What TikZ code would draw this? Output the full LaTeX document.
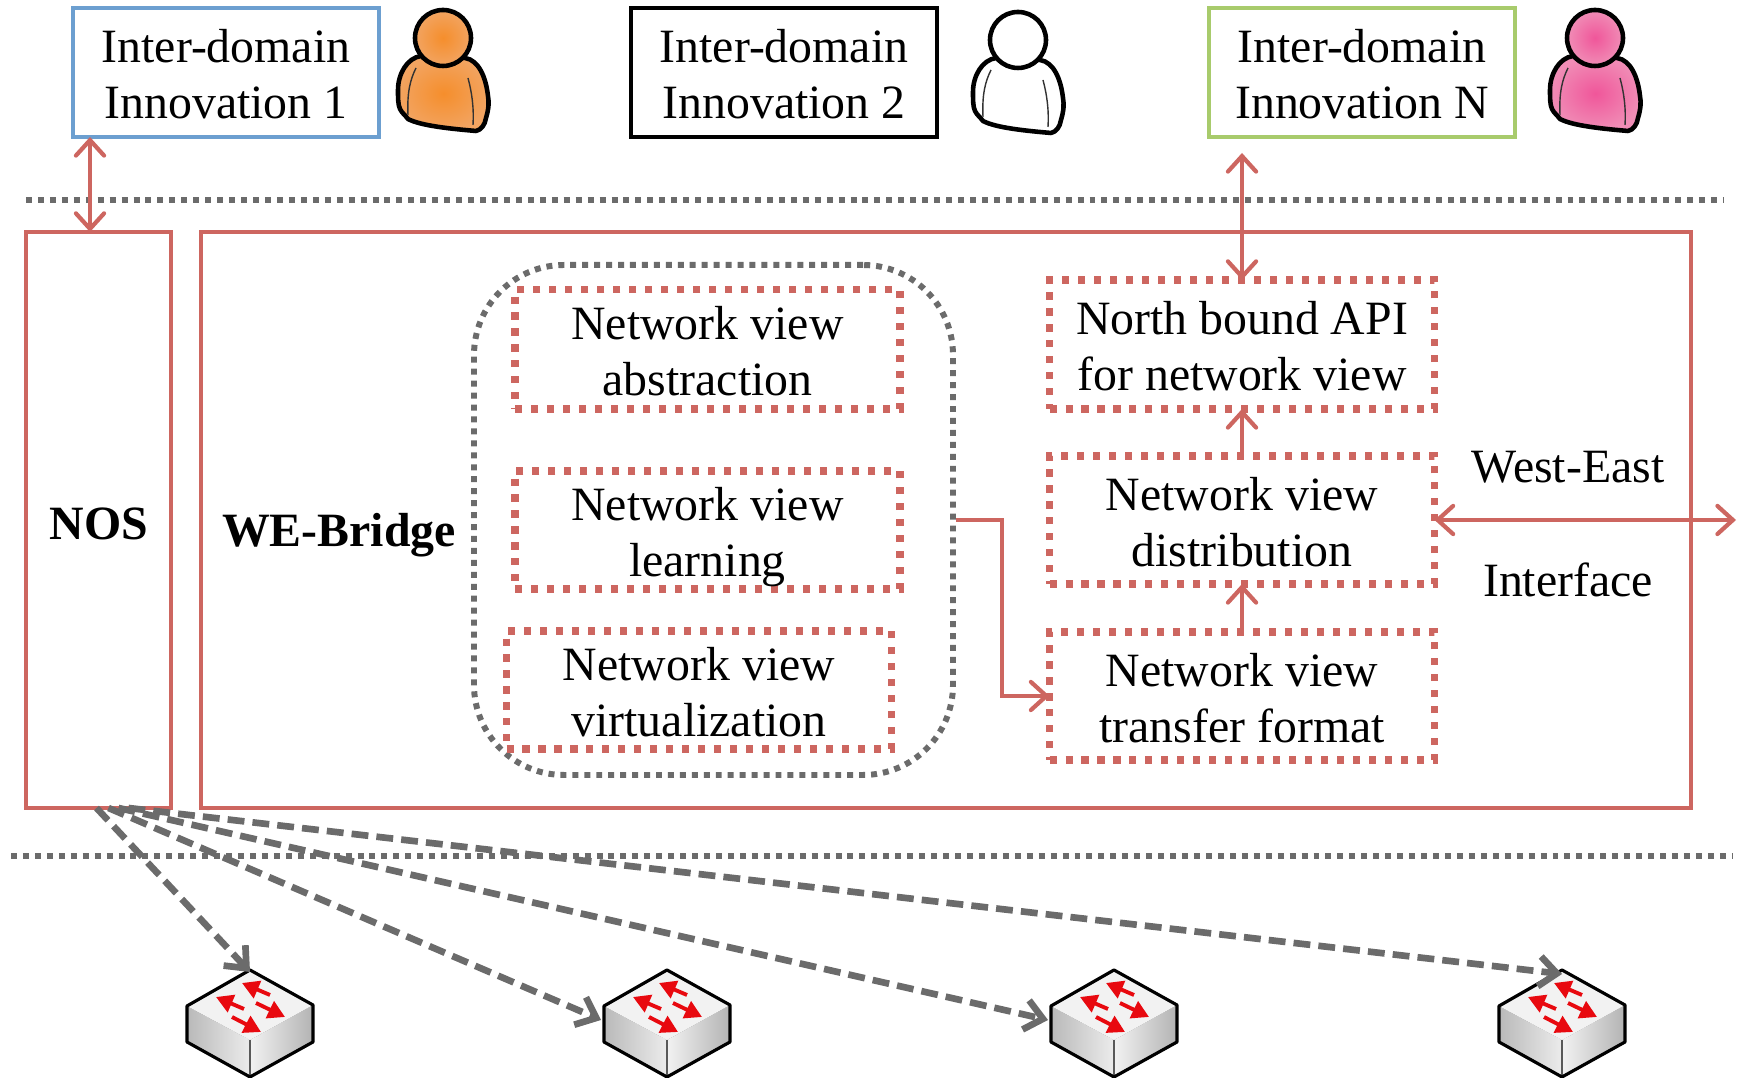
\documentclass[tikz,border=0pt]{standalone}
\usepackage{fontspec}
\setmainfont{Liberation Serif}
\usetikzlibrary{arrows.meta}
\definecolor{boxred}{HTML}{CD6660}
\definecolor{boxblue}{HTML}{6C9FD0}
\definecolor{boxgreen}{HTML}{A8CB6C}
\definecolor{linegray}{HTML}{6B6B6B}
\definecolor{orangein}{HTML}{F58E2C}
\definecolor{orangeout}{HTML}{F2A461}
\definecolor{pinkin}{HTML}{F0569A}
\definecolor{pinkout}{HTML}{F08DB6}
\definecolor{tipred}{HTML}{E8090F}
\newcommand{\toppad}[1]{\rule{0pt}{#1}}
\tikzset{
    label text/.style={font=\fontsize{13.6}{15.9}\selectfont, align=center, inner sep=0pt, outer sep=0pt},
    topbox/.style={label text, draw, line width=1.35pt, minimum width=3.06cm, minimum height=1.29cm},
    redbox/.style={label text, draw=boxred, line width=1.35pt},
    viewbox/.style={label text, draw=boxred, line width=2pt, dash pattern=on 2pt off 2.55pt, minimum width=3.85cm},
    redline/.style={draw=boxred, line width=1.2pt, >={Straight Barb[length=4.4pt, width=8pt, line cap=round]}},
    grayarrow/.style={draw=linegray, line width=1.9pt, dash pattern=on 4.8pt off 2.3pt, ->, >={Straight Barb[length=5pt, width=8.5pt]}},
    graydots/.style={draw=linegray, line width=1.7pt, dash pattern=on 1.7pt off 1.7pt},
    switcharrow/.style={draw=tipred, line width=1.1pt, -{Triangle[length=4.8pt, width=5.2pt]}},
    pics/person/.style n args={2}{code={
        \shadedraw[draw=black, line width=1.3pt, inner color=#1, outer color=#2, line join=round]
            (-0.22,0.18) .. controls (-0.36,0.20) and (-0.45,0.36) .. (-0.45,0.52)
            .. controls (-0.45,0.60) and (-0.45,0.67) .. (-0.43,0.71)
            .. controls (-0.41,0.75) and (-0.38,0.77) .. (-0.35,0.81)
            .. controls (-0.22,0.88) and (0.10,0.91) .. (0.33,0.93)
            .. controls (0.38,0.92) and (0.42,0.87) .. (0.43,0.80)
            .. controls (0.46,0.70) and (0.46,0.64) .. (0.45,0.58)
            .. controls (0.43,0.40) and (0.36,0.22) .. (0.22,0.20) -- cycle;
        \shadedraw[draw=black, line width=1.3pt, inner color=#1, outer color=#2] (0,0) circle[radius=0.28];
        \draw[black!80, line width=0.4pt] (-0.27,0.30) .. controls (-0.33,0.42) and (-0.36,0.55) .. (-0.35,0.77);
        \draw[black!80, line width=0.4pt] (0.25,0.40) .. controls (0.29,0.55) and (0.31,0.70) .. (0.30,0.87);
    }},
    pics/netswitch/.style={code={
        \fill[left color=gray!55, right color=gray!15] (-0.63,0.36) -- (0,0.70) -- (0,1.07) -- (-0.63,0.72) -- cycle;
        \fill[left color=gray!10, right color=gray!60] (0,0.70) -- (0.63,0.35) -- (0.63,0.72) -- (0,1.07) -- cycle;
        \fill[gray!10] (0,0) -- (0.63,0.35) -- (0,0.70) -- (-0.63,0.36) -- cycle;
        \draw[gray!70!black, line width=0.5pt] (0,0.70) -- (0,1.07);
        \draw[black, line width=0.9pt, line join=round] (0,0) -- (0.63,0.35) -- (0.63,0.72) -- (0,1.07) -- (-0.63,0.72) -- (-0.63,0.36) -- cycle;
        \draw[switcharrow] (0.20,0.25) -- (-0.08,0.13);
        \draw[switcharrow] (-0.06,0.39) -- (-0.34,0.27);
        \draw[switcharrow] (0.06,0.33) -- (0.35,0.47);
        \draw[switcharrow] (-0.18,0.47) -- (0.11,0.62);
    }},
}
\begin{document}
\begin{tikzpicture}[y=-1cm]
        \useasboundingbox (0,0) rectangle (17.43,10.78);
        \clip (0,0) rectangle (17.43,10.78);
        \node[topbox, draw=boxblue] (inno1) at (2.26,0.725) {\toppad{10.44pt}Inter-domain\\Innovation 1};
        \node[topbox, draw=black] (inno2) at (7.84,0.725) {\toppad{10.44pt}Inter-domain\\Innovation 2};
        \node[topbox, draw=boxgreen] (innoN) at (13.62,0.725) {\toppad{10.44pt}Inter-domain\\Innovation N};
        \pic at (4.43,0.38) {person={orangein}{orangeout}};
        \pic at (10.18,0.40) {person={white}{white}};
        \pic at (15.95,0.38) {person={pinkin}{pinkout}};
        \coordinate (upleft) at (0.26,2.0);
        \coordinate (upright) at (17.23,2.0);
        \coordinate (lowleft) at (0.11,8.56);
        \coordinate (lowright) at (17.32,8.56);
        \draw[graydots] (upleft) -- (upright);
        \draw[graydots] (lowleft) -- (lowright);
        \node[redbox, minimum width=1.45cm, minimum height=5.76cm] (nos) at (0.985,5.2) {};
        \node[redbox, minimum width=14.9cm, minimum height=5.76cm] (webridge) at (9.46,5.2) {};
        \node[label text, font=\fontsize{13.6}{15.9}\selectfont\bfseries] (noslabel) at (0.99,5.24) {NOS};
        \node[label text, font=\fontsize{13.6}{15.9}\selectfont\bfseries] (welabel) at (3.39,5.35) {WE-Bridge};
        \node[graydots, draw, rounded corners=0.9cm, minimum width=4.79cm, minimum height=5.1cm] (viewgroup) at (7.135,5.2) {};
        \node[viewbox, minimum height=1.19cm] (abstraction) at (7.075,3.495) {\toppad{10.44pt}Network view\\abstraction};
        \node[viewbox, minimum height=1.18cm] (learning) at (7.075,5.3) {\toppad{13.3pt}Network view\\learning};
        \node[viewbox, minimum height=1.18cm] (virtual) at (6.99,6.9) {\toppad{10.44pt}Network view\\virtualization};
        \node[viewbox, minimum height=1.29cm] (north) at (12.42,3.445) {\toppad{10.44pt}North bound API\\for network view};
        \node[viewbox, minimum height=1.28cm] (distribution) at (12.42,5.2) {\toppad{10.44pt}Network view\\distribution};
        \node[viewbox, minimum height=1.28cm] (transfer) at (12.42,6.96) {\toppad{10.44pt}Network view\\transfer format};
        \node[label text] (westeast) at (15.68,4.67) {West-East};
        \node[label text] (interface) at (15.68,5.80) {Interface};
        \coordinate (nostop) at (0.9,2.32);
        \coordinate (northtop) at (12.42,1.53);
        \coordinate (weend) at (17.36,5.2);
        \coordinate (elbow) at (10.02,6.96);
        \draw[redline, <->] (inno1.south -| nostop) -- (nostop);
        \draw[redline, <->] (northtop) -- (north.north);
        \draw[redline, ->] (distribution.north) -- (north.south);
        \draw[redline, ->] (transfer.north) -- (distribution.south);
        \draw[redline, <->] (distribution.east) -- (weend);
        \draw[redline, ->] (viewgroup.east) -| (elbow) -- (transfer.west);
        \coordinate (sw1) at (2.5,9.7);
        \coordinate (sw2) at (6.67,9.7);
        \coordinate (sw3) at (11.14,9.7);
        \coordinate (sw4) at (15.62,9.7);
        \pic at (sw1) {netswitch};
        \pic at (sw2) {netswitch};
        \pic at (sw3) {netswitch};
        \pic at (sw4) {netswitch};
        \draw[grayarrow] ([xshift=-0.02cm]nos.south) -- ([yshift=-0.02cm]sw1);
        \draw[grayarrow] ([xshift=0.1cm]nos.south) -- ([shift={(-0.66,0.5)}]sw2);
        \draw[grayarrow] ([xshift=0.2cm]nos.south) -- ([shift={(-0.66,0.5)}]sw3);
        \draw[grayarrow] ([xshift=0.3cm]nos.south) -- ([yshift=-0.04cm]sw4);
\end{tikzpicture}
\end{document}
